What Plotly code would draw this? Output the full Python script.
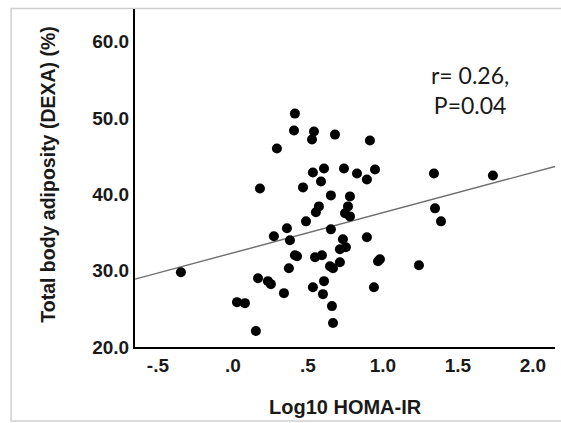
import plotly.graph_objects as go

# Data
log10_homa_ir = [
    0.413, 0.407, 0.540, 0.527, 0.680, 0.913, 0.293, 0.533, 0.607, 0.740,
    0.827, 0.947, 0.893, 1.340, 1.733, 0.180, 0.467, 0.587, 0.653, 0.780,
    0.573, 0.553, 0.767, 0.747, 0.780, 1.347, 1.387, 0.487, 0.360, 0.273,
    0.380, 0.653, 0.733, 0.893, 0.713, 0.753, 0.413, 0.427, 0.547, 0.593,
    0.647, 0.667, 0.713, 0.373, 0.967, 0.980, 0.607, 0.533, 0.600, 0.340,
    0.940, 0.660, 0.667, 1.240, -0.347, 0.167, 0.233, 0.253, 0.027, 0.080,
    0.153,
]
total_body_adiposity = [
    50.59, 48.37, 48.24, 47.19, 47.84, 47.06, 46.01, 42.88, 43.40, 43.40,
    42.75, 43.27, 41.96, 42.75, 42.48, 40.78, 40.92, 41.70, 39.87, 39.74,
    38.43, 37.65, 38.43, 37.52, 37.12, 38.17, 36.47, 36.47, 35.56, 34.51,
    33.99, 35.42, 34.12, 34.38, 32.81, 33.07, 32.03, 31.90, 31.76, 32.03,
    30.59, 30.33, 31.11, 30.33, 31.24, 31.50, 28.63, 27.84, 26.93, 27.06,
    27.84, 25.36, 23.14, 30.72, 29.80, 29.02, 28.63, 28.24, 25.88, 25.75,
    22.09,
]

fit_intercept = 32.34
fit_slope = 5.27

x_range = [-0.653, 2.147]
y_range = [20.0, 64.3]

x_tick_vals = [-0.5, 0.0, 0.5, 1.0, 1.5, 2.0]
x_tick_text = ["-.5", ".0", ".5", "1.0", "1.5", "2.0"]
y_tick_vals = [20, 30, 40, 50, 60]
y_tick_text = ["20.0", "30.0", "40.0", "50.0", "60.0"]

x_title = "Log10 HOMA-IR"
y_title = "Total body adiposity (DEXA) (%)"
annotation_text = "r= 0.26,<br>P=0.04"

fit_x = x_range
fit_y = [fit_intercept + fit_slope * v for v in fit_x]

fig = go.Figure()
fig.add_trace(go.Scatter(
    x=fit_x, y=fit_y, mode="lines",
    line=dict(color="#6e6e6e", width=1.4),
    hoverinfo="skip", showlegend=False, cliponaxis=False,
))
fig.add_trace(go.Scatter(
    x=log10_homa_ir, y=total_body_adiposity, mode="markers",
    marker=dict(color="black", size=10, line=dict(width=0)),
    showlegend=False,
))

FAM = "Liberation Sans, Arial, sans-serif"
tickfont = dict(family=FAM, size=19, color="#1a1a1a", weight="bold")

fig.update_layout(
    width=561, height=423,
    margin=dict(l=135, r=6, t=9, b=76, autoexpand=False),
    paper_bgcolor="white", plot_bgcolor="white",
    showlegend=False,
    xaxis=dict(
        range=x_range, tickvals=x_tick_vals, ticktext=x_tick_text,
        showgrid=False, zeroline=False, ticks="", automargin=False,
        showline=True, linecolor="black", linewidth=2,
        tickfont=tickfont,
    ),
    yaxis=dict(
        range=y_range, tickvals=y_tick_vals, ticktext=y_tick_text,
        showgrid=False, zeroline=False, ticks="", automargin=False,
        showline=True, linecolor="black", linewidth=2,
        tickfont=tickfont,
    ),
    annotations=[
        dict(
            text=annotation_text, x=1.58, y=53.7, xref="x", yref="y",
            showarrow=False, align="center",
            font=dict(family="Lato, Open Sans, sans-serif", size=23, color="#1a1a1a"),
        ),
        dict(
            text="<b>" + x_title + "</b>", x=0.5, y=-0.177, xref="paper", yref="paper",
            showarrow=False, xanchor="center", yanchor="middle",
            font=dict(family=FAM, size=20, color="#1a1a1a"),
        ),
        dict(
            text="<b>" + y_title + "</b>", x=-0.207, y=0.51, xref="paper", yref="paper",
            showarrow=False, xanchor="center", yanchor="middle", textangle=-90,
            font=dict(family=FAM, size=19.5, color="#1a1a1a"),
        ),
    ],
    shapes=[dict(
        type="rect", xref="paper", yref="paper",
        x0=-0.295, x1=1.1, y0=-0.219, y1=1.0015,
        line=dict(color="#cfcfcf", width=1.5), fillcolor="rgba(0,0,0,0)",
        layer="below",
    )],
)

fig.write_html(
    "out.html",
    config={"displayModeBar": False},
    post_script="document.body.style.margin='0';document.body.style.overflow='hidden';",
)
